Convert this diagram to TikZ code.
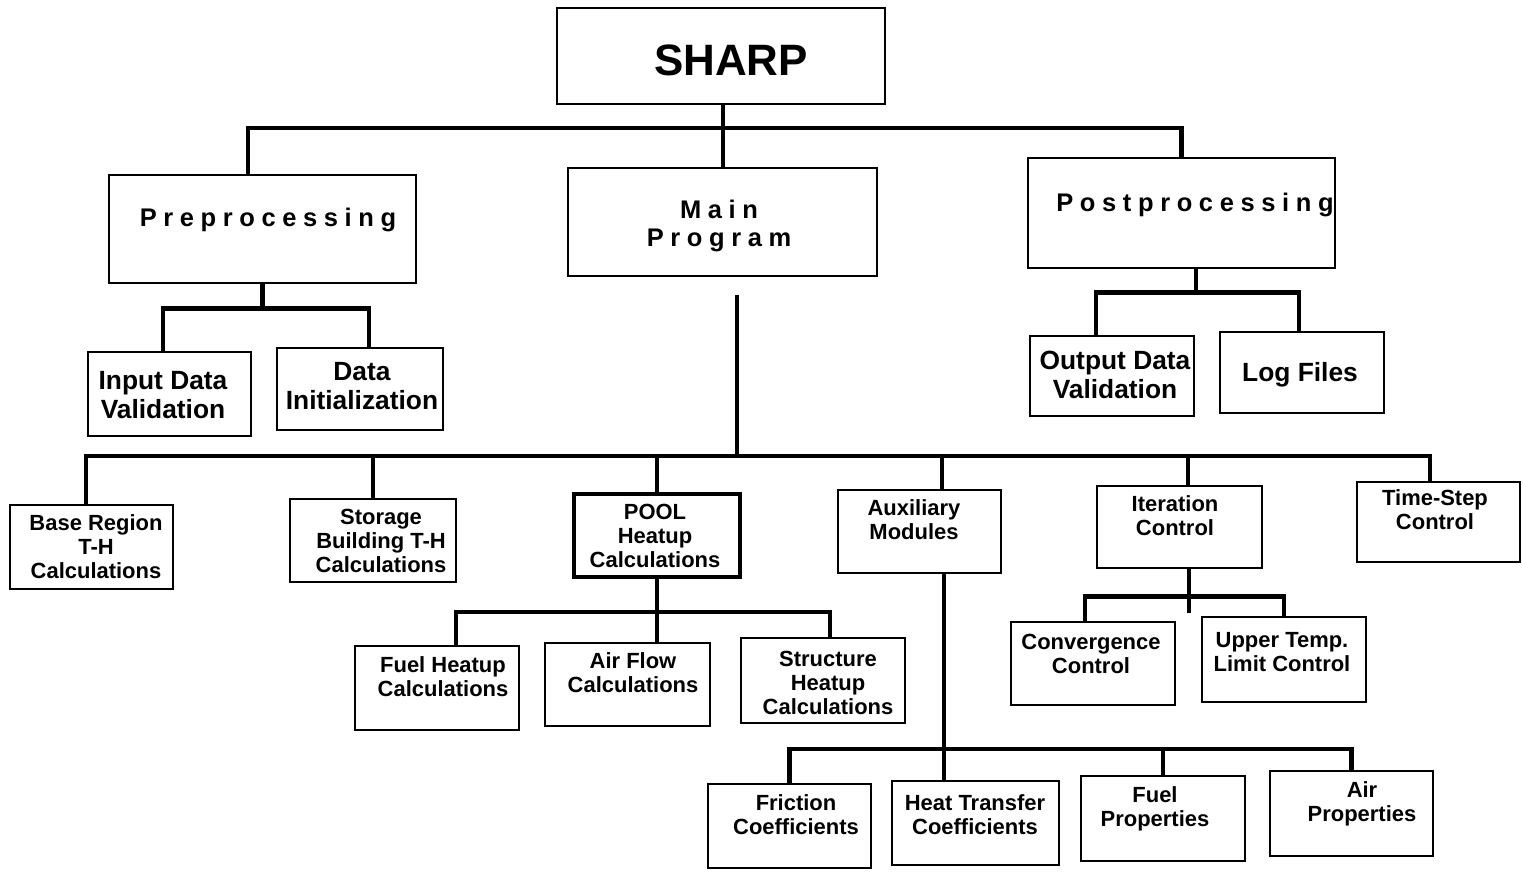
\documentclass[tikz,border=0pt]{standalone}
\usepackage{fontspec}
\setmainfont{Liberation Sans}
\newfontfamily\spacedfont[LetterSpace=26]{Liberation Sans}
% one box: name, centre x, centre y, width, height (in pixels)
\newcommand\chartbox[6][]{\node[box,#1,minimum width=#5*0.02cm,minimum height=#6*0.02cm] (#2) at (#3,#4) {};}

\begin{document}
\begin{tikzpicture}[x=0.02cm,y=-0.02cm,
	box/.style={draw,line width=1.6pt,inner sep=0pt},
	smalltxt/.style={align=center,font=\bfseries\fontsize{12.5}{13.6}\selectfont,inner sep=0pt},
	midtxt/.style={align=center,font=\bfseries\fontsize{15}{16.2}\selectfont,inner sep=0pt},
	toptxt/.style={align=center,font=\spacedfont\bfseries\fontsize{14.5}{16.4}\selectfont,inner sep=0pt},
	conn/.style={line width=2.4pt}]
	\useasboundingbox (0,0) rectangle (1523,872);

	% boxes
	\chartbox{sharp}{721}{56}{328}{96}
	\chartbox{pre}{262.5}{229}{307}{108}
	\chartbox{main}{722.5}{222}{309}{108}
	\chartbox{post}{1181.5}{213}{307}{110}
	\chartbox{indata}{169.5}{394}{163}{84}
	\chartbox{init}{360}{389}{166}{82}
	\chartbox{outdata}{1112}{376}{164}{80}
	\chartbox{logs}{1302}{372.5}{164}{81}
	\chartbox{base}{91.5}{547}{163}{84}
	\chartbox{storage}{373}{540.5}{166}{83}
	\chartbox[line width=2.4pt]{pool}{657}{535.5}{166}{83}
	\chartbox{aux}{919.5}{531.5}{163}{83}
	\chartbox{iter}{1179.5}{527}{165}{82}
	\chartbox{tstep}{1438.5}{522}{163}{80}
	\chartbox{fuelheat}{437}{688}{164}{84}
	\chartbox{airflow}{627.5}{684.5}{165}{83}
	\chartbox{struct}{823}{680.5}{164}{85}
	\chartbox{conv}{1093}{663.5}{164}{83}
	\chartbox{upper}{1284}{659.5}{164}{85}
	\chartbox{fric}{789.5}{826}{163}{84}
	\chartbox{heat}{975.5}{823}{167}{84}
	\chartbox{fuelprop}{1163}{818.5}{164}{85}
	\chartbox{airprop}{1351.5}{813.5}{163}{85}

	% texts
	\node[font=\bfseries\fontsize{25}{28}\selectfont] (sharp-t) at (731,60) {SHARP};
	\node[toptxt] (pre-t) at (268,220) {Preprocessing};
	\node[toptxt] (main-t) at (719,226) {Main\\Program};
	\node[toptxt] (post-t) at (1195,205) {Postprocessing};
	\node[midtxt] (indata-t) at (163,395) {Input Data\\Validation};
	\node[midtxt] (init-t) at (362,386) {Data\\Initialization};
	\node[midtxt] (outdata-t) at (1115,375) {Output Data\\Validation};
	\node[midtxt] (logs-t) at (1300,375) {Log Files};
	\node[smalltxt] (base-t) at (96,547) {Base Region\\T-H\\Calculations};
	\node[smalltxt] (storage-t) at (381,541) {Storage\\Building T-H\\Calculations};
	\node[smalltxt] (pool-t) at (655,536) {POOL\\Heatup\\Calculations};
	\node[smalltxt] (aux-t) at (914,520) {Auxiliary\\Modules};
	\node[smalltxt] (iter-t) at (1175,516) {Iteration\\Control};
	\node[smalltxt] (tstep-t) at (1435,510) {Time-Step\\Control};
	\node[smalltxt] (fuelheat-t) at (443,677) {Fuel Heatup\\Calculations};
	\node[smalltxt] (airflow-t) at (633,673) {Air Flow\\Calculations};
	\node[smalltxt] (struct-t) at (828,683) {Structure\\Heatup\\Calculations};
	\node[smalltxt] (conv-t) at (1091,654) {Convergence\\Control};
	\node[smalltxt] (upper-t) at (1282,652) {Upper Temp.\\Limit Control};
	\node[smalltxt] (fric-t) at (796,815) {Friction\\Coefficients};
	\node[smalltxt] (heat-t) at (975,815) {Heat Transfer\\Coefficients};
	\node[smalltxt] (fuelprop-t) at (1155,809) {Fuel\\Properties};
	\node[smalltxt] (airprop-t) at (1362,804) {Air\\Properties};

	% top level
	\coordinate (topbus) at (723,128);
	\draw[conn] (topbus) -- (topbus |- sharp.south);
	\draw[conn] (topbus) -- (topbus |- main.north);
	\draw[conn] ([xshift=-.29cm]pre.north) |- (topbus) -| (post.north);

	% preprocessing
	\coordinate[yshift=-.48cm] (prebus) at (pre.south);
	\draw[conn] (pre.south) -- (prebus);
	\draw[conn] ([xshift=-.13cm]indata.north) |- (prebus) -| ([xshift=.18cm]init.north);

	% postprocessing
	\coordinate (postbus) at ([xshift=.29cm,yshift=-.46cm]post.south);
	\draw[conn] (postbus) -- (postbus |- post.south);
	\draw[conn] ([xshift=-.32cm]outdata.north) |- (postbus) -| ([xshift=-.06cm]logs.north);

	% main program
	\coordinate (mainstub) at ([xshift=.29cm,yshift=-.36cm]main.south);
	\coordinate (mainbus) at ([yshift=-3.22cm]mainstub);
	\draw[conn] (mainstub) -- (mainbus);
	\draw[conn] ([xshift=-.11cm]base.north) |- (mainbus) -| ([xshift=-.17cm]tstep.north);
	\draw[conn] (mainbus -| storage.north) -- (storage.north);
	\draw[conn] (mainbus -| pool.north) -- (pool.north);
	\draw[conn] ([xshift=.45cm]aux.north) |- (mainbus);
	\draw[conn] ([xshift=.17cm]iter.north) |- (mainbus);

	% pool heatup
	\coordinate[yshift=-.66cm] (poolbus) at (pool.south);
	\draw[conn] (pool.south) -- (pool.south |- airflow.north);
	\draw[conn] ([xshift=.38cm]fuelheat.north) |- (poolbus) -| ([xshift=.14cm]struct.north);

	% auxiliary modules
	\coordinate (auxtop) at ([xshift=.49cm]aux.south);
	\coordinate (auxbus) at ([yshift=-3.5cm]auxtop);
	\draw[conn] (auxtop) -- (auxtop |- heat.north);
	\draw[conn] (fric.north) |- (auxbus) -| (airprop.north);
	\draw[conn] (auxbus -| fuelprop.north) -- (fuelprop.north);

	% iteration control
	\coordinate (itertop) at ([xshift=.19cm]iter.south);
	\coordinate (iterbus) at ([yshift=-.54cm]itertop);
	\draw[conn] (itertop) -- ([yshift=-.88cm]itertop);
	\draw[conn] ([xshift=-.16cm]conv.north) |- (iterbus) -| (upper.north);
\end{tikzpicture}
\end{document}
